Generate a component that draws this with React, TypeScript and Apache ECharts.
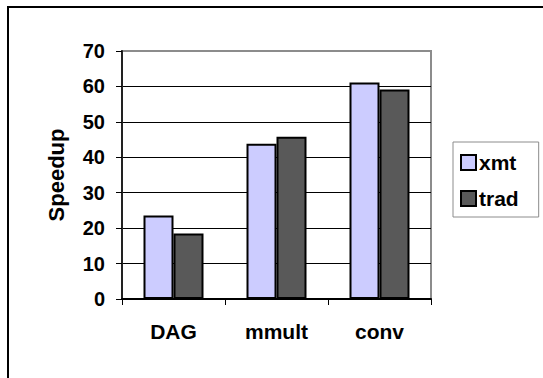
import React, { useEffect, useRef } from "react";
import * as echarts from "echarts";

const categories = ["DAG", "mmult", "conv"];
const xmtValues = [23.6, 43.8, 61.1];
const tradValues = [18.5, 45.8, 59.1];
const yTicks = { min: 0, max: 70, interval: 10 };

const FONT = "Arial, 'Liberation Sans', sans-serif";

export default function App() {
  const ref = useRef<HTMLDivElement>(null);
  useEffect(() => {
    if (!ref.current) return;
    const chart = echarts.init(ref.current, null, { renderer: "svg" });
    chart.setOption({
      animation: false,
      backgroundColor: "#ffffff",
      textStyle: { fontFamily: FONT },
      graphic: [
        {
          type: "line",
          shape: { x1: 7, y1: 7, x2: 543, y2: 7 },
          style: { stroke: "#000", lineWidth: 2 },
          silent: true,
        },
        {
          type: "line",
          shape: { x1: 8, y1: 6, x2: 8, y2: 378 },
          style: { stroke: "#000", lineWidth: 2 },
          silent: true,
        },
      ],
      grid: {
        left: 122,
        right: 112,
        top: 51,
        bottom: 79,
        show: true,
        borderColor: "#8c8c8c",
        borderWidth: 2,
        backgroundColor: "transparent",
      },
      legend: {
        orient: "vertical",
        left: 453,
        top: 142,
        padding: [10, 20, 8, 7],
        itemGap: 15,
        itemWidth: 15,
        itemHeight: 15,
        borderColor: "#8c8c8c",
        borderWidth: 1,
        icon: "rect",
        textStyle: { fontSize: 21, fontWeight: "bold", color: "#000", fontFamily: FONT, padding: [0, 0, 0, -2] },
        itemStyle: { borderColor: "#000", borderWidth: 2 },
        data: ["xmt", "trad"],
      },
      xAxis: {
        type: "category",
        data: categories,
        axisLine: { show: true, lineStyle: { color: "#000", width: 2 } },
        axisTick: { show: true, length: 6, lineStyle: { color: "#000", width: 1 } },
        axisLabel: { margin: 22, fontSize: 21, fontWeight: "bold", color: "#000", fontFamily: FONT },
      },
      yAxis: {
        type: "value",
        min: yTicks.min,
        max: yTicks.max,
        interval: yTicks.interval,
        name: "Speedup",
        nameLocation: "middle",
        nameRotate: 90,
        nameGap: 55,
        nameTextStyle: { fontSize: 22, fontWeight: "bold", color: "#000", fontFamily: FONT },
        axisLine: { show: true, lineStyle: { color: "#222", width: 2 } },
        axisTick: { show: true, length: 6, lineStyle: { color: "#000", width: 1 } },
        axisLabel: { margin: 17, fontSize: 20, fontWeight: "bold", color: "#000", fontFamily: FONT },
        splitLine: { show: true, showMinLine: false, showMaxLine: false, lineStyle: { color: "#000", width: 1 } },
      },
      series: [
        {
          name: "xmt",
          type: "bar",
          data: xmtValues,
          barWidth: 30,
          barGap: "0%",
          itemStyle: { color: "#CCCCFF", borderColor: "#000", borderWidth: 2 },
        },
        {
          name: "trad",
          type: "bar",
          data: tradValues,
          barWidth: 30,
          barGap: "0%",
          itemStyle: { color: "#595959", borderColor: "#000", borderWidth: 2 },
        },
      ],
    });
    return () => chart.dispose();
  }, []);
  return (
    <div
      ref={ref}
      style={{ position: "absolute", left: 0, top: 0, width: 543, height: 378 }}
    />
  );
}
